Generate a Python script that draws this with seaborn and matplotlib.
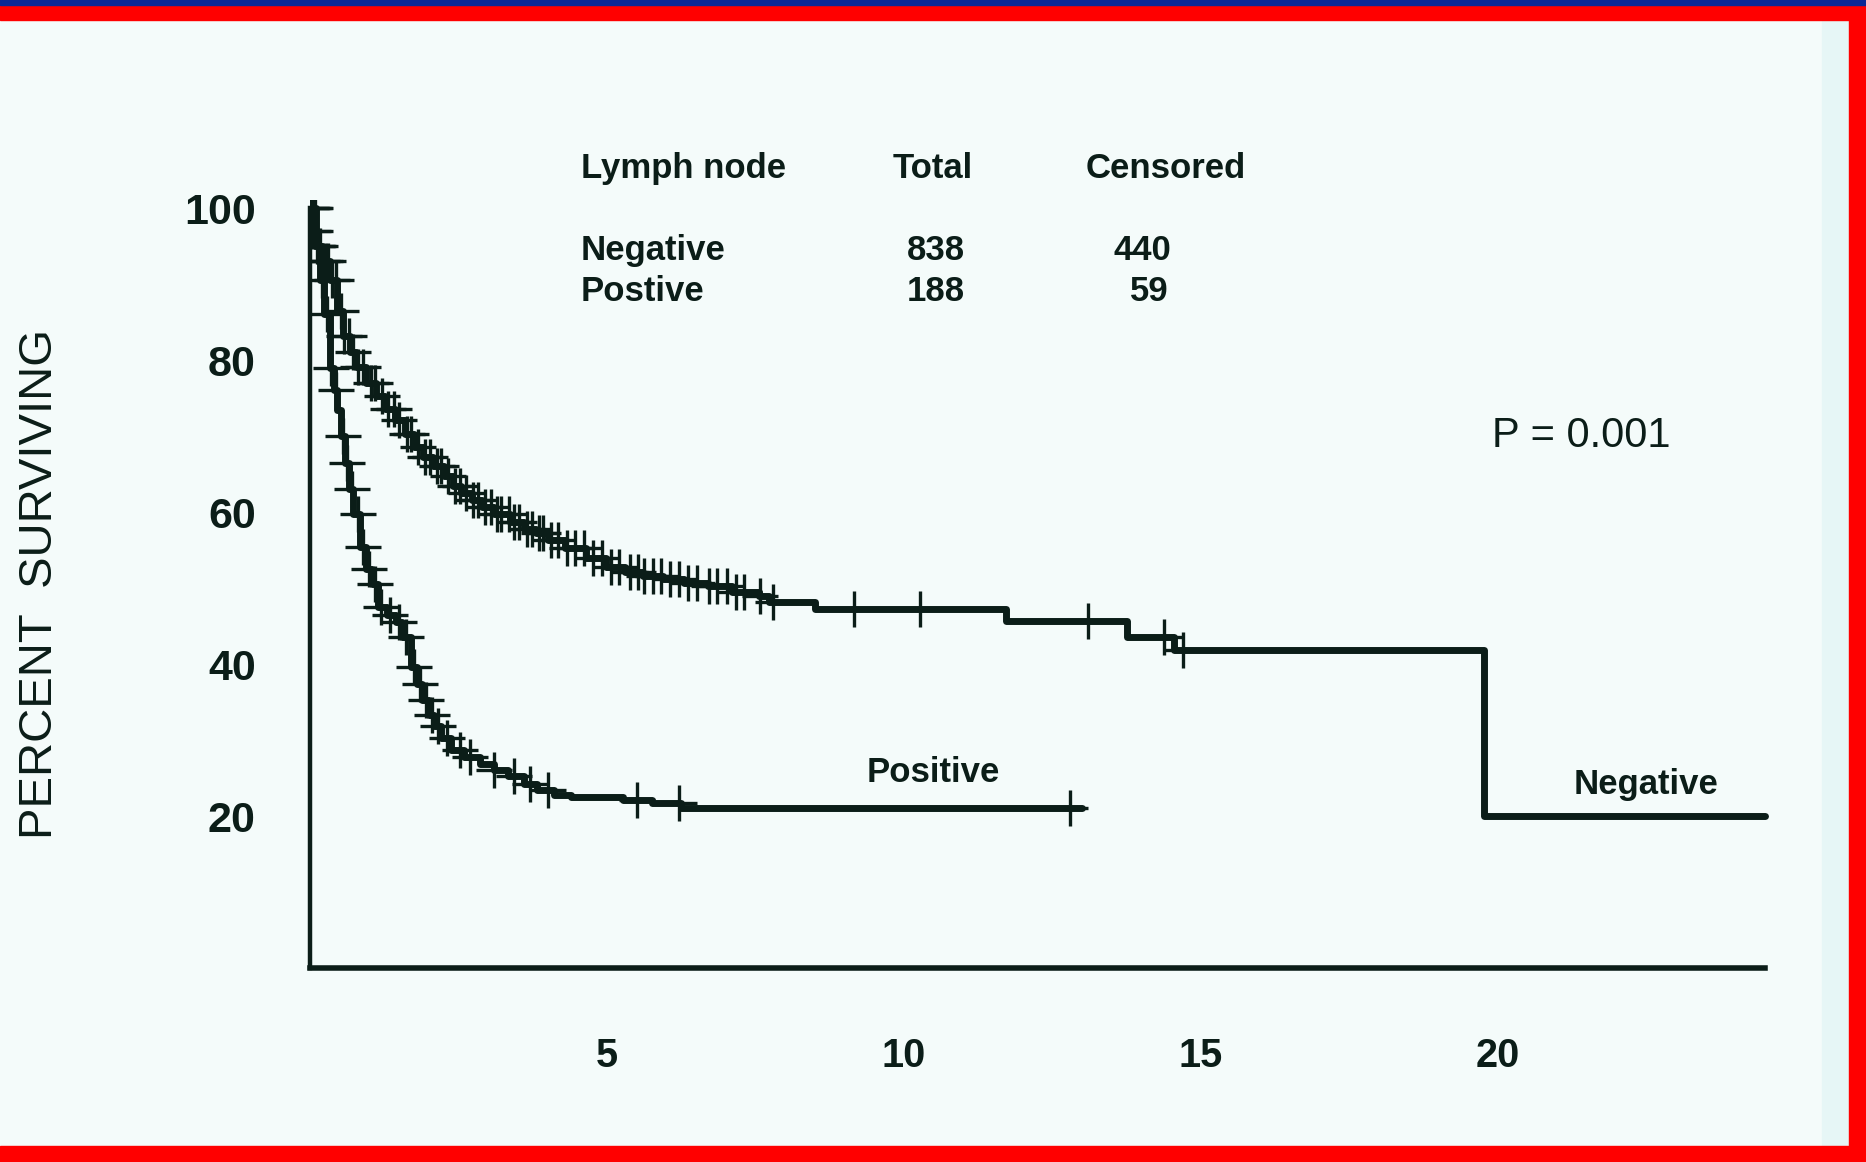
import numpy as np
import pandas as pd
import seaborn as sns
import matplotlib.pyplot as plt
from matplotlib.patches import Rectangle

# Kaplan-Meier steps (years, percent surviving)
neg_time = [0, 0.05, 0.1, 0.2, 0.33, 0.45, 0.56, 0.67, 0.78, 0.95, 1.11, 1.27,
            1.43, 1.6, 1.75, 1.9, 2.07, 2.25, 2.41, 2.55, 2.72, 2.9, 3.1, 3.37,
            3.6, 3.8, 4.0, 4.3, 4.65, 4.98, 5.3, 5.6, 5.94, 6.3, 6.7, 7.1,
            7.56, 7.73, 8.5, 11.72, 13.75, 14.55, 19.77, 24.5]
neg_surv = [100, 97, 95, 93, 90.5, 86.5, 83.1, 81, 79.1, 77, 75.2, 73.6,
            72.1, 70.2, 68.6, 67.3, 66.0, 64.8, 63.4, 62.5, 61.6, 60.7, 59.8, 58.7,
            57.8, 57.2, 56.3, 55.2, 54.0, 52.8, 52.1, 51.6, 51.2, 50.7, 50.2, 49.5,
            48.9, 48.2, 47.3, 45.6, 43.6, 41.9, 20.0, 20.0]

pos_time = [0, 0.1, 0.17, 0.24, 0.33, 0.4, 0.46, 0.52, 0.59, 0.65, 0.72, 0.85,
            0.95, 1.04, 1.15, 1.3, 1.45, 1.55, 1.7, 1.8, 1.89, 2.0, 2.08, 2.2,
            2.37, 2.6, 2.86, 3.1, 3.34, 3.6, 3.82, 4.1, 4.4, 5.27, 5.76, 6.24, 13.0]
pos_surv = [100, 95, 90.5, 86, 79, 76, 73.4, 70, 66.4, 63, 59.8, 55.4,
            52.5, 50.5, 47.5, 46.5, 45.5, 43.5, 39.6, 37.4, 35.3, 33.3, 31.8, 30.3,
            28.7, 27.8, 26.9, 26.0, 25.2, 24.2, 23.4, 22.8, 22.5, 22.1, 21.7, 21.0, 21.0]

# censoring times (years)
neg_censor = [0.02, 0.05, 0.09, 0.12, 0.16, 0.21, 0.26, 0.31, 0.37, 0.43, 0.52, 0.58,
              0.66, 0.73, 0.81, 0.9, 1.02, 1.1, 1.22, 1.31, 1.42, 1.5, 1.63, 1.7,
              1.82, 1.93, 2.02, 2.13, 2.21, 2.33, 2.44, 2.52, 2.63, 2.74, 2.83, 2.95,
              3.04, 3.15, 3.22, 3.35, 3.44, 3.52, 3.66, 3.74, 3.85, 3.93, 4.05, 4.17,
              4.33, 4.46, 4.62, 4.77, 4.92, 5.07, 5.21, 5.38, 5.52, 5.63, 5.78, 5.91,
              6.06, 6.22, 6.37, 6.52, 6.71, 6.86, 7.02, 7.17, 7.31, 7.57, 7.8, 9.15,
              10.27, 13.1, 14.38, 14.7]
pos_censor = [0.03, 0.06, 0.09, 0.13, 0.2, 0.28, 0.36, 0.44, 0.55, 0.62, 0.7, 0.8,
              0.9, 1.0, 1.1, 1.2, 1.35, 1.5, 1.62, 1.75, 1.85, 1.95, 2.05, 2.15,
              2.3, 2.52, 2.7, 3.1, 3.43, 3.7, 4.0, 5.51, 6.21, 12.79]

x_ticks = [5, 10, 15, 20]
y_ticks = [20, 40, 60, 80, 100]

table_cols = ["Lymph node", "Total", "Censored"]
table_groups = ["Negative", "Postive"]
table_total = ["838", "188"]
table_censored = ["440", "59"]
p_text = "P = 0.001"

BG = "#f4fbfa"
INK = "#0b1d18"
RED = "#ff0000"
BLUE = "#0a2896"

sns.set_style("white")
plt.rcParams["font.family"] = ["Liberation Sans", "DejaVu Sans"]


def surv_at(times, surv, t):
    idx = np.searchsorted(times, t, side="right") - 1
    return np.asarray(surv)[idx]


W, H = 1866, 1162
fig = plt.figure(figsize=(W / 100, H / 100), dpi=100)
fig.patch.set_facecolor(BG)

# slide frame
fig.patches.append(Rectangle((1822 / W, 0), 27 / W, 1, transform=fig.transFigure,
                             color="#e6f6f6", zorder=0))
fig.patches.append(Rectangle((0, 1 - 20 / H), 1, 20 / H, transform=fig.transFigure,
                             color=RED, zorder=1))
fig.patches.append(Rectangle((0, 1 - 5 / H), 1, 5 / H, transform=fig.transFigure,
                             color=BLUE, zorder=2))
fig.patches.append(Rectangle((1849 / W, 0), 17 / W, 1, transform=fig.transFigure,
                             color=RED, zorder=1))
fig.patches.append(Rectangle((0, 0), 1, 16 / H, transform=fig.transFigure,
                             color=RED, zorder=1))

ax = fig.add_axes([310 / W, 1 - 968 / H, 24.6 * 59.4 / W, 101 * 7.6 / H])
ax.set_facecolor("none")

curves = pd.concat([
    pd.DataFrame({"years": neg_time, "surv": neg_surv, "node": "Negative"}),
    pd.DataFrame({"years": pos_time, "surv": pos_surv, "node": "Positive"}),
])
for name, grp in curves.groupby("node"):
    sns.lineplot(data=grp, x="years", y="surv", estimator=None, sort=False,
                 drawstyle="steps-post", color=INK, linewidth=5, ax=ax,
                 legend=False)

cens = pd.concat([
    pd.DataFrame({"years": neg_censor,
                  "surv": surv_at(neg_time, neg_surv, neg_censor)}),
    pd.DataFrame({"years": pos_censor,
                  "surv": surv_at(pos_time, pos_surv, pos_censor)}),
])
sns.scatterplot(data=cens, x="years", y="surv", marker="+", s=650,
                color=INK, linewidth=2.4, ax=ax, legend=False)

ax.set_xlim(0, 24.6)
ax.set_ylim(0, 101)
for side in ["top", "right"]:
    ax.spines[side].set_visible(False)
ax.spines["left"].set_bounds(0, 100)
ax.spines["bottom"].set_bounds(0, 24.5)
for side in ["left", "bottom"]:
    ax.spines[side].set_color(INK)
ax.spines["left"].set_linewidth(3.2)
ax.spines["bottom"].set_linewidth(4)

ax.set_xticks(x_ticks)
ax.set_yticks(y_ticks)
ax.tick_params(axis="both", direction="out", length=4, width=3, color=INK,
               labelcolor=INK)
ax.tick_params(axis="y", pad=35, labelsize=31)
ax.tick_params(axis="x", pad=46, labelsize=28.5)
for lab in ax.get_xticklabels() + ax.get_yticklabels():
    lab.set_fontweight("bold")
ax.set_xlabel("")
ax.set_ylabel("")

fig.text(40 / W, 1 - 584 / H, "PERCENT  SURVIVING", rotation=90, ha="center",
         va="center", fontsize=34, color=INK)

# summary table
tk = dict(fontsize=25, fontweight="bold", color=INK, va="baseline", ha="left")
col_x = [4.56, 9.81, 13.05]
for cx, txt in zip(col_x, table_cols):
    ax.text(cx, 104.0, txt, **tk)
row_y = [93.2, 87.8]
for ry, g, tot, cen in zip(row_y, table_groups, table_total, table_censored):
    ax.text(4.56, ry, g, **tk)
    ax.text(10.05, ry, tot, **tk)
    ax.text(13.52 if len(cen) == 3 else 13.8, ry, cen, **tk)

ax.text(19.9, 68.6, p_text, fontsize=30, color=INK, va="baseline", ha="left")
ax.text(9.37, 24.5, "Positive", **tk)
ax.text(21.28, 22.9, "Negative", **tk)

fig.savefig("out.png", dpi=100, facecolor=fig.get_facecolor())
